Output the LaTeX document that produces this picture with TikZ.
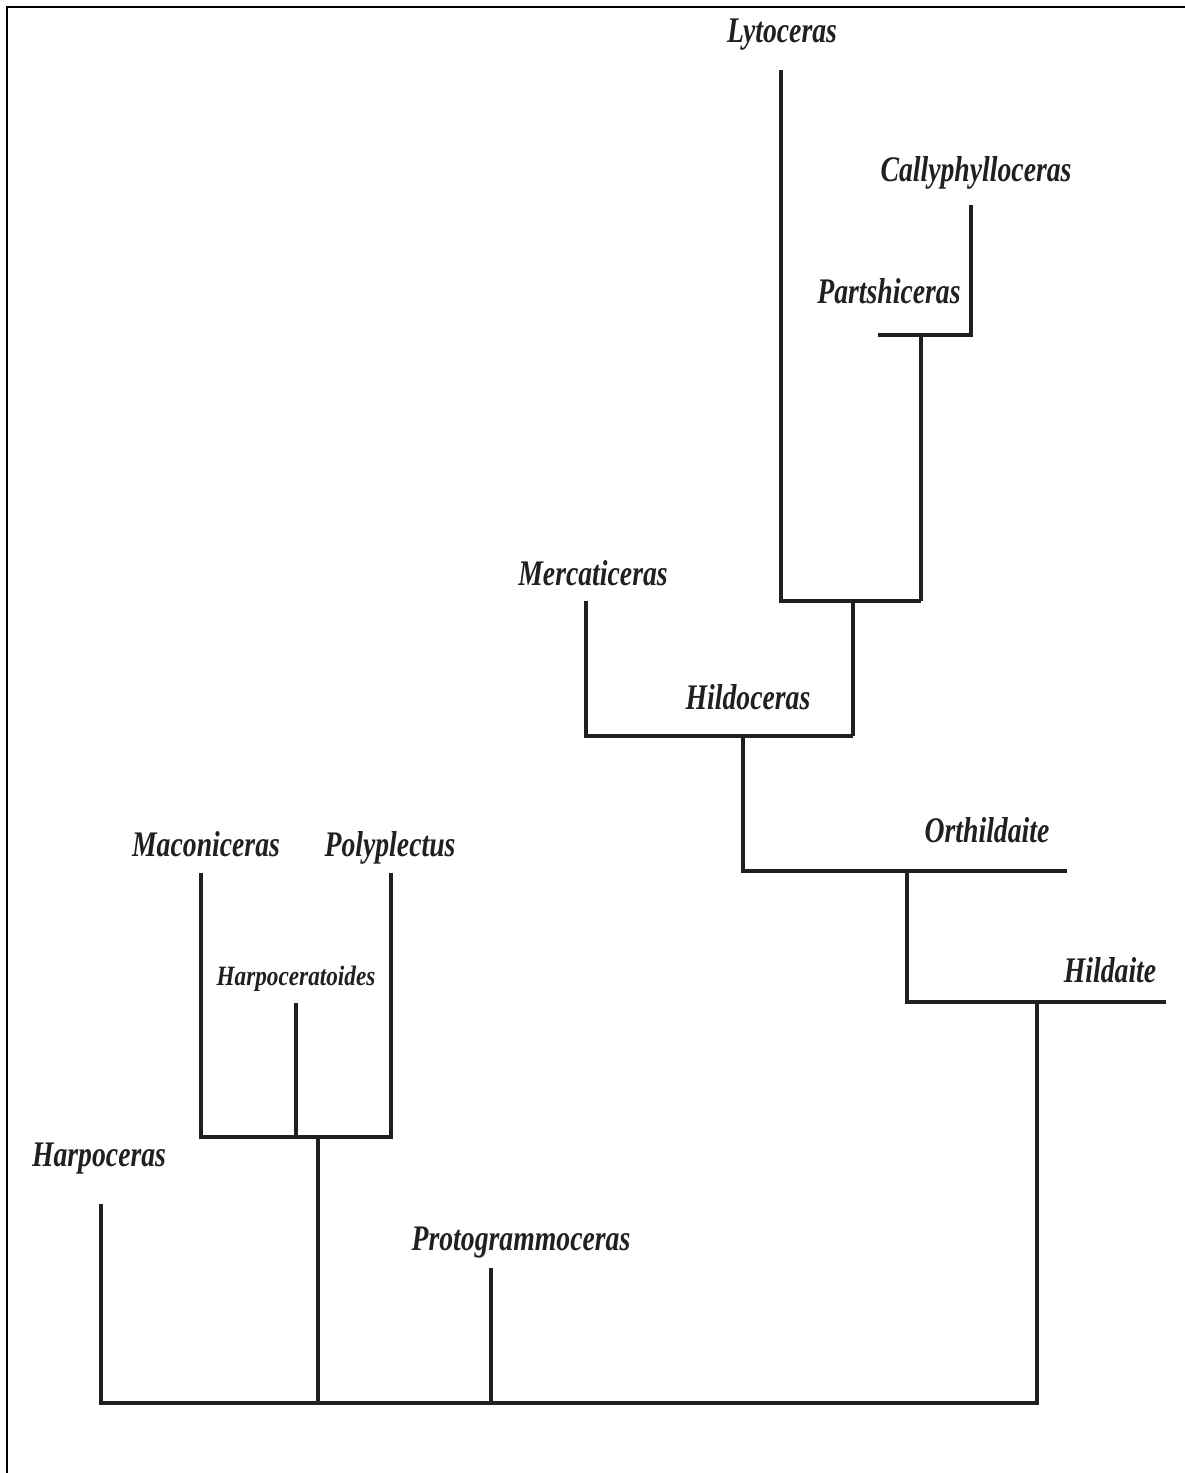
\documentclass[tikz,border=0pt]{standalone}
\usepackage{fontspec}
\setmainfont{Liberation Serif}[FakeStretch=0.77]
\newfontfamily\smallfam{Liberation Serif}[FakeStretch=0.83]
\definecolor{ln}{HTML}{231F20}
\begin{document}
\begin{tikzpicture}[x=1pt,y=-1pt,
  lbl/.style={font=\fontsize{36}{40}\selectfont\bfseries\itshape, anchor=base, inner sep=0pt, text=ln},
  lbls/.style={lbl, font=\smallfam\fontsize{28}{32}\selectfont\bfseries\itshape},
  br/.style={line width=4pt, draw=ln, line join=miter},
  frame/.style={line width=2.5pt, draw=black}]
\useasboundingbox (0,0) rectangle (1185,1473);
% frame
\coordinate (fTL) at (7,7);
\coordinate (fTR) at (1190,7);
\coordinate (fBL) at (7,1480);
\draw[frame] (fTR) -- (fTL) -- (fBL);
% labels
\node[lbl] (Lyt) at (782,42) {Lytoceras};
\node[lbl] (Cal) at (976,181) {Callyphylloceras};
\node[lbl] (Par) at (889,303) {Partshiceras};
\node[lbl] (Mer) at (593,585) {Mercaticeras};
\node[lbl] (Hil) at (748,709) {Hildoceras};
\node[lbl] (Ort) at (987,842) {Orthildaite};
\node[lbl] (Hld) at (1110,982) {Hildaite};
\node[lbl] (Mac) at (206,856) {Maconiceras};
\node[lbl] (Pol) at (390,856) {Polyplectus};
\node[lbls] (Hpt) at (296,985) {Harpoceratoides};
\node[lbl] (Har) at (99,1166) {Harpoceras};
\node[lbl] (Pro) at (521,1250) {Protogrammoceras};
% branch points
\coordinate (lyt) at (781,70);
\coordinate (lytb) at (781,601);
\coordinate (cal) at (971,205);
\coordinate (calb) at (971,335);
\coordinate (parL) at (878,335);
\coordinate (part) at (921,335);
\coordinate (partb) at (921,601);
\coordinate (j1) at (853,601);
\coordinate (j1b) at (853,736);
\coordinate (mer) at (586,601);
\coordinate (merb) at (586,736);
\coordinate (hil) at (743,736);
\coordinate (hilb) at (743,871);
\coordinate (ort) at (1067,871);
\coordinate (j2) at (907,871);
\coordinate (j2b) at (907,1002);
\coordinate (hld) at (1166,1002);
\coordinate (j3) at (1037,1002);
\coordinate (j3b) at (1037,1403);
\coordinate (harb) at (101,1403);
\coordinate (har) at (101,1204);
\coordinate (j4) at (318,1137);
\coordinate (j4b) at (318,1403);
\coordinate (mac) at (201,873);
\coordinate (macb) at (201,1137);
\coordinate (pol) at (391,873);
\coordinate (polb) at (391,1137);
\coordinate (hpt) at (296,1003);
\coordinate (hptb) at (296,1137);
\coordinate (pro) at (491,1268);
\coordinate (prob) at (491,1403);
% branches
\draw[br] (parL) -- (calb) -- (cal);
\draw[br] (part) -- (partb);
\draw[br] (lyt) -- (lytb) -- (partb);
\draw[br] (j1) -- (j1b);
\draw[br] (mer) -- (merb) -- (j1b);
\draw[br] (hil) -- (hilb) -- (ort);
\draw[br] (j2) -- (j2b) -- (hld);
\draw[br] (j3) -- (j3b) -- (harb) -- (har);
\draw[br] (j4) -- (j4b);
\draw[br] (mac) -- (macb) -- (polb) -- (pol);
\draw[br] (hpt) -- (hptb);
\draw[br] (pro) -- (prob);
\end{tikzpicture}
\end{document}
